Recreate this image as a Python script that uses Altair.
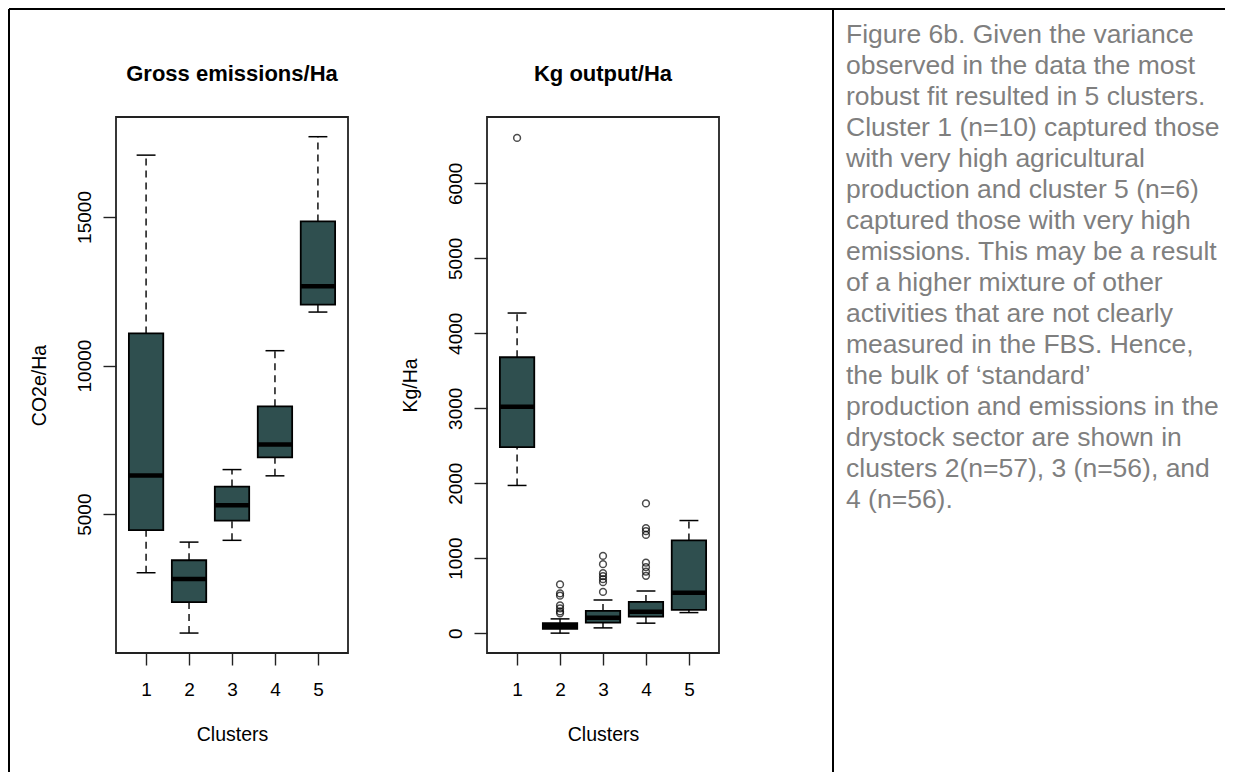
import altair as alt
import pandas as pd

# ---------------- data ----------------
clusters = [1, 2, 3, 4, 5]

# Gross emissions/Ha (CO2e/Ha)
em_lower = [3030, 1000, 4120, 6290, 11800]
em_q1 = [4460, 2040, 4780, 6910, 12050]
em_median = [6300, 2820, 5300, 7340, 12670]
em_q3 = [11080, 3450, 5930, 8630, 14850]
em_upper = [17080, 4060, 6500, 10500, 17700]
em_outlier_cluster = []
em_outlier_value = []
em_ticks = [5000, 10000, 15000]
em_domain = [329, 18363]

# Kg output/Ha
out_lower = [1970, 0, 70, 133, 274]
out_q1 = [2480, 57, 141, 221, 309]
out_median = [3020, 95, 205, 285, 540]
out_q3 = [3680, 133, 296, 416, 1237]
out_upper = [4270, 190, 442, 562, 1502]
out_outlier_cluster = [1,
                       2, 2, 2, 2, 2, 2, 2,
                       3, 3, 3, 3, 3, 3, 3,
                       4, 4, 4, 4, 4, 4, 4, 4]
out_outlier_value = [6606,
                     650, 530, 500, 370, 330, 290, 265,
                     1030, 920, 800, 760, 720, 680, 550,
                     1730, 1400, 1360, 1310, 940, 880, 820, 765]
out_ticks = [0, 1000, 2000, 3000, 4000, 5000, 6000]
out_domain = [-265, 6885]

caption_lines = [
    "Figure 6b. Given the variance",
    "observed in the data the most",
    "robust fit resulted in 5 clusters.",
    "Cluster 1 (n=10) captured those",
    "with very high agricultural",
    "production and cluster 5 (n=6)",
    "captured those with very high",
    "emissions. This may be a result",
    "of a higher mixture of other",
    "activities that are not clearly",
    "measured in the FBS. Hence,",
    "the bulk of \u2018standard\u2019",
    "production and emissions in the",
    "drystock sector are shown in",
    "clusters 2(n=57), 3 (n=56), and",
    "4 (n=56).",
]

# ---------------- styling ----------------
W, H = 232, 536
FONT = "Liberation Sans"
FILL = "#2F4F4F"
dummy = pd.DataFrame({"k": [0]})


def panel(lower, q1, med, q3, upper, oc, ov, domain, ticks, ytitle, title):
    df = pd.DataFrame({"cluster": clusters, "lower": lower, "q1": q1,
                       "median": med, "q3": q3, "upper": upper})
    odf = pd.DataFrame({"cluster": oc, "value": ov})
    base = alt.Chart(df).transform_calculate(
        box_lo="datum.cluster - 0.4", box_hi="datum.cluster + 0.4",
        cap_lo="datum.cluster - 0.22", cap_hi="datum.cluster + 0.22")
    xs = alt.Scale(domain=[0.3, 5.7], nice=False, zero=False)
    ys = alt.Scale(domain=domain, nice=False, zero=False)
    xax = alt.Axis(values=clusters, format="d", title="Clusters", labelAngle=0,
                   tickSize=12, labelPadding=30, labelBaseline="alphabetic",
                   grid=False, domain=False, titleY=87, titleX=W / 2,
                   titleBaseline="alphabetic", titleAlign="center")
    yax = alt.Axis(values=ticks, format="d", title=ytitle, labelAngle=270,
                   labelAlign="center", labelBaseline="alphabetic", tickSize=13,
                   labelPadding=13, grid=False, domain=False, titleAngle=270,
                   titleX=-71, titleY=H / 2, titleAlign="center",
                   titleBaseline="alphabetic")

    def X(f):
        return alt.X(f, type="quantitative", scale=xs, axis=xax)

    def Y(f):
        return alt.Y(f, type="quantitative", scale=ys, axis=yax)

    whisk_hi = base.mark_rule(color="black", strokeWidth=1.4, strokeDash=[7, 5]).encode(
        x=X("cluster"), y=Y("q3"), y2="upper:Q")
    whisk_lo = base.mark_rule(color="black", strokeWidth=1.4, strokeDash=[7, 5]).encode(
        x=X("cluster"), y=Y("lower"), y2="q1:Q")
    box = base.mark_rect(fill=FILL, stroke="black", strokeWidth=1.8).encode(
        x=X("box_lo"), x2="box_hi:Q", y=Y("q1"), y2="q3:Q")
    median = base.mark_rule(color="black", strokeWidth=4.5).encode(
        x=X("box_lo"), x2="box_hi:Q", y=Y("median"))
    cap_hi = base.mark_rule(color="black", strokeWidth=1.5).encode(
        x=X("cap_lo"), x2="cap_hi:Q", y=Y("upper"))
    cap_lo = base.mark_rule(color="black", strokeWidth=1.5).encode(
        x=X("cap_lo"), x2="cap_hi:Q", y=Y("lower"))
    layers = [whisk_hi, whisk_lo, box, median, cap_hi, cap_lo]
    if len(ov):
        pts = alt.Chart(odf).mark_point(shape="circle", filled=False, color="black",
                                        size=46, strokeWidth=1.5).encode(
            x=X("cluster"), y=Y("value"))
        layers.append(pts)
    ttl = alt.Chart(dummy).mark_text(text=title, font=FONT, fontSize=22,
                                     fontWeight="bold", align="center",
                                     baseline="alphabetic", color="black").encode(
        x=alt.value(W / 2), y=alt.value(-36))
    layers.append(ttl)
    return alt.layer(*layers).properties(width=W, height=H)


p1 = panel(em_lower, em_q1, em_median, em_q3, em_upper, em_outlier_cluster,
           em_outlier_value, em_domain, em_ticks, "CO2e/Ha", "Gross emissions/Ha")
p2 = panel(out_lower, out_q1, out_median, out_q3, out_upper, out_outlier_cluster,
           out_outlier_value, out_domain, out_ticks, "Kg/Ha", "Kg output/Ha")

# caption / frame panel (positions relative to its own origin)
frame = alt.Chart(dummy)
top_line = frame.mark_rule(color="black", strokeWidth=2).encode(
    x=alt.value(-849), x2=alt.value(367), y=alt.value(-108))
left_line = frame.mark_rule(color="black", strokeWidth=2).encode(
    x=alt.value(-849), y=alt.value(-108), y2=alt.value(655))
div_line = frame.mark_rule(color="black", strokeWidth=2).encode(
    x=alt.value(-25), y=alt.value(-108), y2=alt.value(655))
caption = frame.mark_text(text=caption_lines, font=FONT, fontSize=26.5,
                          lineHeight=31, align="left", baseline="alphabetic",
                          color="#7f7f7f").encode(
    x=alt.value(-12), y=alt.value(-74))
p3 = alt.layer(top_line, left_line, div_line, caption).properties(
    width=300, height=H, view=alt.ViewBackground(strokeOpacity=0))

chart = alt.hconcat(p1, p2, p3, spacing=139, bounds="flush").properties(
    padding=0
).configure_view(
    stroke="#222222", strokeWidth=1.8
).configure_axis(
    labelFont=FONT, titleFont=FONT, labelFontSize=19, titleFontSize=19.5,
    titleFontWeight="normal", labelColor="black", titleColor="black",
    tickColor="#222222", tickWidth=1.4
)

chart.save("out.html", embed_options={"renderer": "svg", "actions": False})
